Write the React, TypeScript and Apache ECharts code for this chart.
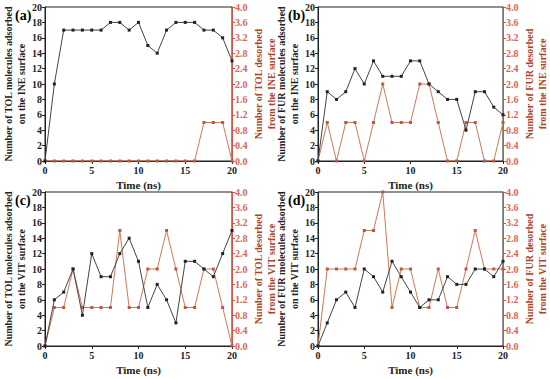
import React, { useEffect, useRef } from "react";
import * as echarts from "echarts";

const time = [0, 1, 2, 3, 4, 5, 6, 7, 8, 9, 10, 11, 12, 13, 14, 15, 16, 17, 18, 19, 20];

const adsA = [0, 10, 17, 17, 17, 17, 17, 18, 18, 17, 18, 15, 14, 17, 18, 18, 18, 17, 17, 16, 13];
const desA = [0, 0, 0, 0, 0, 0, 0, 0, 0, 0, 0, 0, 0, 0, 0, 0, 0, 1, 1, 1, 0];

const adsB = [0, 9, 8, 9, 12, 10, 13, 11, 11, 11, 13, 13, 10, 9, 8, 8, 4, 9, 9, 7, 6];
const desB = [0, 1, 0, 1, 1, 0, 1, 2, 1, 1, 1, 2, 2, 1, 0, 0, 1, 1, 0, 0, 1];

const adsC = [0, 6, 7, 10, 4, 12, 9, 9, 12, 14, 11, 5, 8, 6, 3, 11, 11, 10, 9, 12, 15];
const desC = [0, 1, 1, 2, 1, 1, 1, 1, 3, 1, 1, 2, 2, 3, 2, 1, 1, 2, 2, 1, 0];

const adsD = [0, 3, 6, 7, 5, 10, 9, 7, 11, 9, 7, 5, 6, 6, 9, 8, 8, 10, 10, 9, 11];
const desD = [0, 2, 2, 2, 2, 3, 3, 4, 1, 2, 2, 1, 1, 2, 1, 1, 2, 3, 2, 2, 2];

const panelLabels = ["(a)", "(b)", "(c)", "(d)"];
const leftNames = [
  "Number of TOL molecules adsorbed\non the INE surface",
  "Number of FUR molecules adsorbed\non the INE surface",
  "Number of TOL molecules adsorbed\non the VIT surface",
  "Number of FUR molecules adsorbed\non the VIT surface",
];
const rightNames = [
  "Number of TOL desorbed\nfrom the INE surface",
  "Number of FUR desorbed\nfrom the INE surface",
  "Number of TOL desorbed\nfrom the VIT surface",
  "Number of FUR desorbed\nfrom the VIT surface",
];
const xName = "Time (ns)";

const adsSeries = [adsA, adsB, adsC, adsD];
const desSeries = [desA, desB, desC, desD];

const FONT = "'Liberation Serif', 'DejaVu Serif', serif";
const BLACK = "#222";
const RED_LINE = "#c97a5a";
const RED_AXIS = "#c8584a";
const RED_NAME = "#a8452c";

export default function App() {
  const ref = useRef<HTMLDivElement>(null);
  useEffect(() => {
    if (!ref.current) return;
    const chart = echarts.init(ref.current, undefined, { renderer: "svg" });
    const grids = [
      { left: 45, top: 7, width: 187, height: 154 },
      { left: 318, top: 7, width: 188, height: 154 },
      { left: 45, top: 192, width: 187, height: 154 },
      { left: 318, top: 192, width: 188, height: 154 },
    ];
    const xAxis: any[] = [];
    const yAxis: any[] = [];
    const series: any[] = [];
    const graphic: any[] = [];
    grids.forEach((g, i) => {
      xAxis.push({
        type: "value",
        gridIndex: i,
        min: 0,
        max: 20,
        interval: 5,
        name: xName,
        nameLocation: "middle",
        nameGap: 18,
        nameTextStyle: { fontFamily: FONT, fontWeight: "bold", fontSize: 11, color: BLACK },
        axisLine: { show: true, lineStyle: { color: BLACK, width: 1 } },
        axisTick: { show: true, inside: false, length: 3, lineStyle: { color: BLACK } },
        axisLabel: { fontFamily: FONT, fontWeight: "bold", fontSize: 10, color: BLACK, margin: 4 },
        splitLine: { show: false },
      });
      yAxis.push({
        type: "value",
        gridIndex: i,
        position: "left",
        min: 0,
        max: 20,
        interval: 2,
        name: leftNames[i],
        nameLocation: "middle",
        nameRotate: 90,
        nameGap: 16,
        nameTextStyle: { fontFamily: FONT, fontWeight: "bold", fontSize: 10, lineHeight: 13, color: BLACK },
        axisLine: { show: true, lineStyle: { color: BLACK, width: 1 } },
        axisTick: { show: true, length: 3, lineStyle: { color: BLACK } },
        axisLabel: { fontFamily: FONT, fontWeight: "bold", fontSize: 10, color: BLACK, margin: 3 },
        splitLine: { show: false },
      });
      yAxis.push({
        type: "value",
        gridIndex: i,
        position: "right",
        min: 0,
        max: 4,
        interval: 0.4,
        name: rightNames[i],
        nameLocation: "middle",
        nameRotate: 90,
        nameGap: 20,
        nameTextStyle: { fontFamily: FONT, fontWeight: "bold", fontSize: 10, lineHeight: 13, color: RED_NAME },
        axisLine: { show: true, lineStyle: { color: RED_AXIS, width: 1 } },
        axisTick: { show: true, length: 3, lineStyle: { color: RED_AXIS } },
        axisLabel: {
          fontFamily: FONT,
          fontWeight: "bold",
          fontSize: 10,
          color: "#d9645a",
          margin: 3,
          formatter: (v: number) => v.toFixed(1),
        },
        splitLine: { show: false },
      });
      series.push({
        type: "line",
        xAxisIndex: i,
        yAxisIndex: i * 2 + 1,
        data: time.map((t, k) => [t, desSeries[i][k]]),
        symbol: "rect",
        symbolSize: 3,
        lineStyle: { color: RED_LINE, width: 1 },
        itemStyle: { color: "#b85a40" },
        z: 2,
      });
      series.push({
        type: "line",
        xAxisIndex: i,
        yAxisIndex: i * 2,
        data: time.map((t, k) => [t, adsSeries[i][k]]),
        symbol: "rect",
        symbolSize: 3,
        lineStyle: { color: "#444", width: 1 },
        itemStyle: { color: "#222" },
        z: 3,
      });
      graphic.push({
        type: "text",
        left: g.left - 30,
        top: g.top + 1,
        style: {
          text: panelLabels[i],
          fontFamily: FONT,
          fontWeight: "bold",
          fontSize: 14,
          fill: "#000",
        },
        z: 10,
      });
    });
    chart.setOption({
      animation: false,
      backgroundColor: "#fff",
      grid: grids.map((g) => ({ ...g, show: true, borderColor: BLACK, borderWidth: 1, backgroundColor: "transparent" })),
      xAxis,
      yAxis,
      series,
      graphic,
    });
    return () => chart.dispose();
  }, []);
  return <div ref={ref} style={{ position: "fixed", left: 0, top: 0, width: 550, height: 379 }} />;
}
